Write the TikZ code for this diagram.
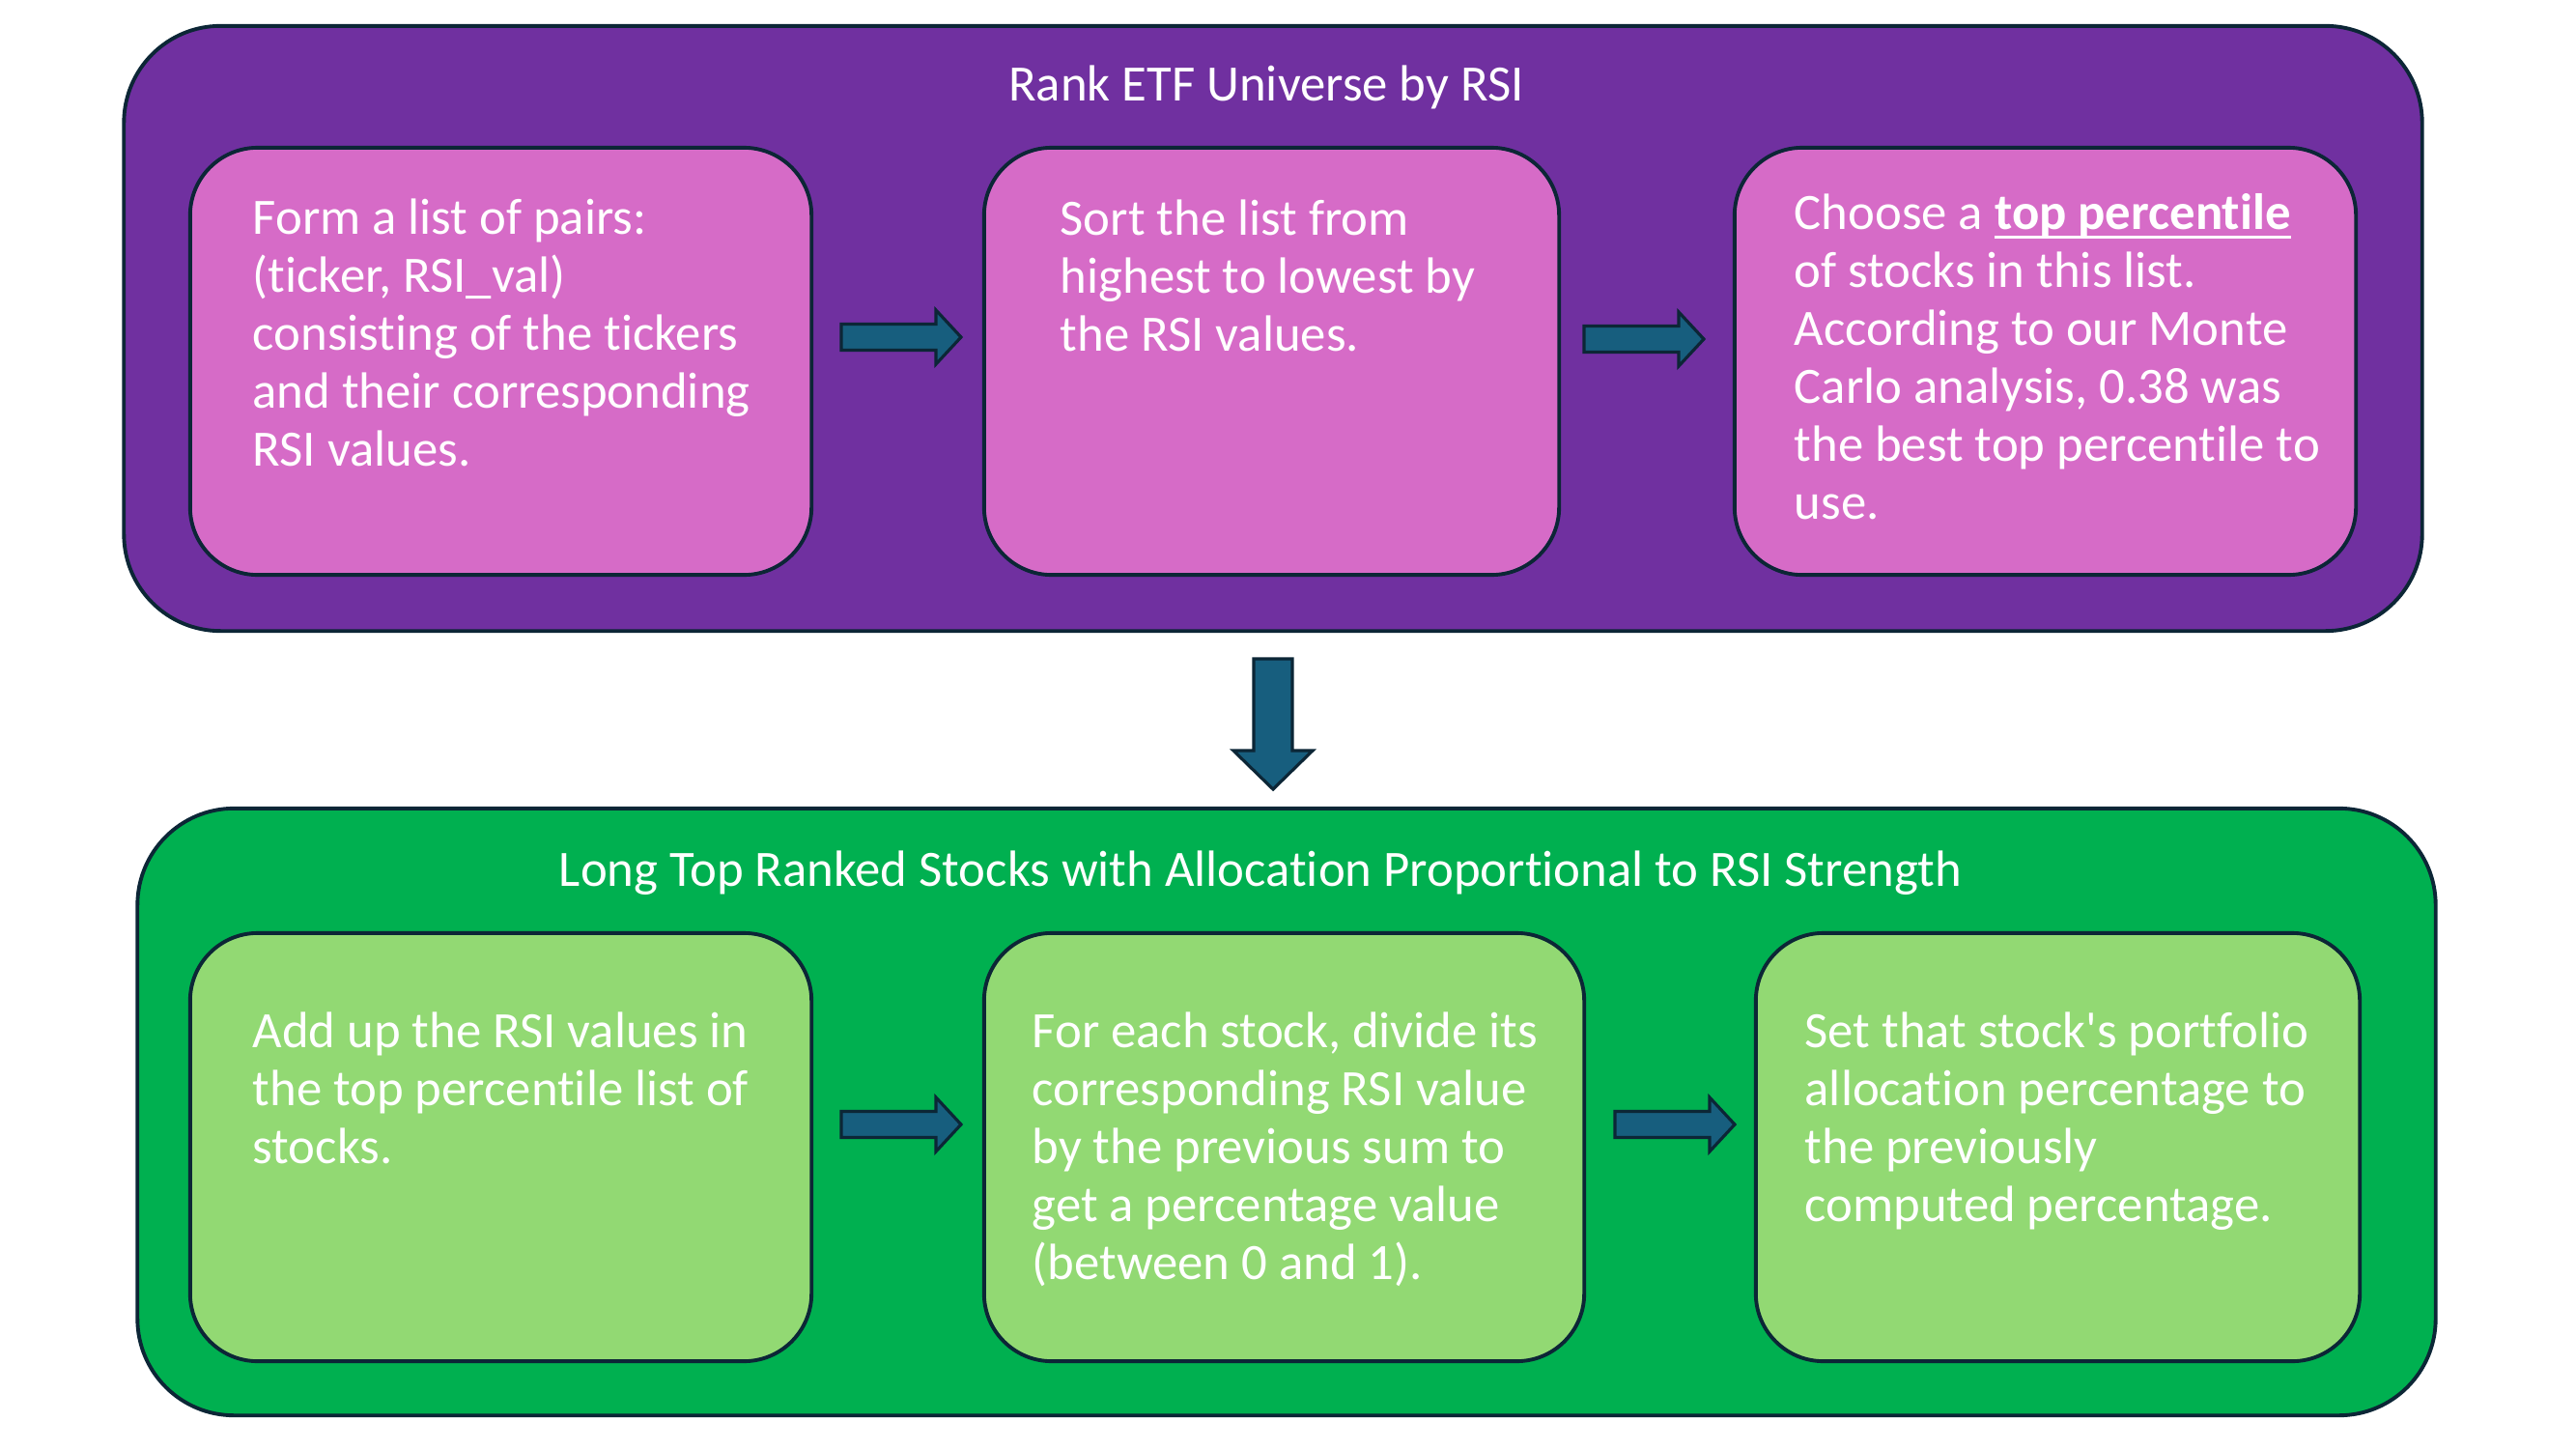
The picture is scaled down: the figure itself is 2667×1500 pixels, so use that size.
\documentclass[tikz,border=0pt]{standalone}
\usepackage{fontspec}
\setmainfont{Carlito}[Ligatures={NoCommon}]
\definecolor{purpleout}{HTML}{7030A0}
\definecolor{pinkin}{HTML}{D66BC7}
\definecolor{greenout}{HTML}{00B050}
\definecolor{greenin}{HTML}{92D973}
\definecolor{arrowc}{HTML}{175E7E}
\definecolor{edge}{HTML}{0C2636}
\newcommand\firststrut{\rule{0pt}{12pt}}
\newcommand\ulbold[1]{\setbox0\hbox{\textbf{#1}}\rlap{\rule[-2.6pt]{\wd0}{0.7pt}}\box0}
\newcommand\straightquote{\XeTeXglyph\XeTeXcharglyph"0027\relax}
\tikzset{
  outerbox/.style={draw=edge, line width=1.1pt, rounded corners=1cm, inner sep=0pt},
  innerbox/.style={draw=edge, line width=1.1pt, rounded corners=0.7cm, inner sep=0pt},
  titletext/.style={text=white, font=\fontsize{15pt}{17.07pt}\selectfont, inner sep=0pt, anchor=base},
  bodytext/.style={text=white, font=\fontsize{15pt}{17.07pt}\selectfont, align=left, inner sep=0pt, anchor=north west},
  arrowshape/.style={draw=edge, fill=arrowc, line width=0.9pt, line join=miter},
  rarrow/.pic={\draw[arrowshape] (-62,-13.5) -- (36,-13.5) -- (36,-28) -- (62,0) -- (36,28) -- (36,13.5) -- (-62,13.5) -- cycle;},
  darrow/.pic={\draw[arrowshape] (-20,-67.5) -- (20,-67.5) -- (20,27.5) -- (41,27.5) -- (0,67.5) -- (-41,27.5) -- (-20,27.5) -- cycle;}
}
\begin{document}
\begin{tikzpicture}[x=0.01cm, y=-0.01cm]
\useasboundingbox[fill=white] (0,0) rectangle (2667,1500);

% top group
\node[outerbox, fill=purpleout, minimum width=23.78cm, minimum height=6.26cm] (top) at (1318,340) {};
\node[titletext] (toptitle) at (1311,105) {Rank ETF Universe by RSI};
\node[innerbox, fill=pinkin, minimum width=6.43cm, minimum height=4.42cm] (p1) at (518.5,374) {};
\node[innerbox, fill=pinkin, minimum width=5.95cm, minimum height=4.42cm] (p2) at (1316.5,374) {};
\node[innerbox, fill=pinkin, minimum width=6.43cm, minimum height=4.42cm] (p3) at (2117.5,374) {};

\node[bodytext] (t1) at (261,199.8) {\firststrut Form a list of pairs:\\(ticker, RSI\_val)\\consisting of the tickers\\and their corresponding\\RSI values.};
\node[bodytext] (t2) at (1097,200.8) {\firststrut Sort the list from\\highest to lowest by\\the RSI values.};
\node[bodytext] (t3) at (1857,194.8) {\firststrut Choose a \ulbold{top percentile}\\of stocks in this list.\\According to our Monte\\Carlo analysis, 0.38 was\\the best top percentile to\\use.};

\pic (a1) at (933,349) {rarrow};
\pic (a2) at (1702,351) {rarrow};

% down arrow
\pic (ad) at (1318,749.5) {darrow};

% bottom group
\node[outerbox, fill=greenout, minimum width=23.78cm, minimum height=6.28cm] (bot) at (1332,1151) {};
\node[titletext] (bottitle) at (1305,917) {Long Top Ranked Stocks with Allocation Proportional to RSI Strength};
\node[innerbox, fill=greenin, minimum width=6.43cm, minimum height=4.43cm] (g1) at (518.5,1187.5) {};
\node[innerbox, fill=greenin, minimum width=6.21cm, minimum height=4.43cm] (g2) at (1329.5,1187.5) {};
\node[innerbox, fill=greenin, minimum width=6.25cm, minimum height=4.43cm] (g3) at (2130.5,1187.5) {};

\node[bodytext] (s1) at (261,1041.8) {\firststrut Add up the RSI values in\\the top percentile list of\\stocks.};
\node[bodytext] (s2) at (1068,1041.8) {\firststrut For each stock, divide its\\corresponding RSI value\\by the previous sum to\\get a percentage value\\(between 0 and 1).};
\node[bodytext] (s3) at (1868,1041.8) {\firststrut Set that stock\straightquote s portfolio\\allocation percentage to\\the previously\\computed percentage.};

\pic (b1) at (933,1164) {rarrow};
\pic (b2) at (1734,1164) {rarrow};
\end{tikzpicture}
\end{document}
